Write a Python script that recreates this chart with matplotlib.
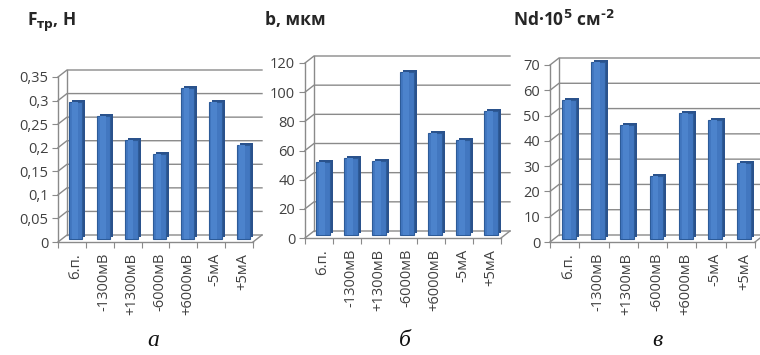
import matplotlib
matplotlib.use("Agg")
import matplotlib.pyplot as plt
from matplotlib.transforms import offset_copy

plt.rcParams['font.family'] = ['Open Sans', 'DejaVu Sans']
plt.rcParams['mathtext.fontset'] = 'dejavusans'

categories = ["б.п.", "-1300мВ", "+1300мВ", "-6000мВ", "+6000мВ", "-5мА", "+5мА"]

friction = [0.29, 0.26, 0.21, 0.18, 0.32, 0.29, 0.20]
friction_ticks = [0, 0.05, 0.1, 0.15, 0.2, 0.25, 0.3, 0.35]
friction_ticklabels = ["0", "0,05", "0,1", "0,15", "0,2", "0,25", "0,3", "0,35"]

width_b = [50, 53, 51, 112, 70, 65, 85]
width_ticks = [0, 20, 40, 60, 80, 100, 120]
width_ticklabels = ["0", "20", "40", "60", "80", "100", "120"]

density = [55, 70, 45, 25, 50, 47, 30]
density_ticks = [0, 10, 20, 30, 40, 50, 60, 70]
density_ticklabels = ["0", "10", "20", "30", "40", "50", "60", "70"]

W, H = 760, 355
fig = plt.figure(figsize=(W / 100, H / 100), dpi=100)

GRID = "#8a8a8a"
FRONT = "#4277c0"
SIDE = "#2a528c"
EDGE = "#2d5b98"
TXT = "#404040"


def panel(px0, px1, py0, pytop, values, ticks, ticklabels):
    ax = fig.add_axes([px0 / W, (H - py0) / H, (px1 - px0) / W, (py0 - pytop) / H])
    n = len(values)
    ax.set_xlim(-0.5, n - 0.5)
    ax.set_ylim(0, ticks[-1])
    for s in ("top", "right"):
        ax.spines[s].set_visible(False)
    for s in ("left", "bottom"):
        ax.spines[s].set_color(GRID)
        ax.spines[s].set_linewidth(1.0)
    ax.set_yticks(ticks)
    ax.set_yticklabels(ticklabels, fontsize=10.5, color=TXT)
    ax.tick_params(axis="y", length=4, color=GRID, pad=3)
    ax.set_xticks([i - 0.5 for i in range(n + 1)])
    ax.set_xticklabels([])
    ax.tick_params(axis="x", length=4, color=GRID)

    # pixel -> data offsets for the pseudo-3D back wall
    xs = n / (px1 - px0)
    ys = ticks[-1] / (py0 - pytop)
    wdx, wdy = 9 * xs, 7 * ys
    x0, x1 = -0.5, n - 0.5
    for t in ticks:
        ax.plot([x0, x0 + wdx, x1 + wdx], [t, t + wdy, t + wdy],
                color=GRID, lw=1.0, clip_on=False, zorder=1)
    ax.plot([x0 + wdx, x0 + wdx], [wdy, ticks[-1] + wdy], color=GRID, lw=1.0,
            clip_on=False, zorder=1)
    ax.plot([x1, x1 + wdx], [0, wdy], color=GRID, lw=1.0, clip_on=False, zorder=1)

    pos = list(range(n))
    side_tr = offset_copy(ax.transData, fig=fig, x=7, y=5, units="dots")
    front_tr = offset_copy(ax.transData, fig=fig, x=4, y=3, units="dots")
    ax.bar(pos, values, width=0.47, color=SIDE, transform=side_tr,
           clip_on=False, zorder=3, linewidth=0)
    ax.bar(pos, values, width=0.47, color=FRONT, edgecolor=EDGE, linewidth=0.8,
           transform=front_tr, clip_on=False, zorder=4)
    hl_tr = offset_copy(ax.transData, fig=fig, x=3, y=3, units="dots")
    ax.bar(pos, values, width=0.2, color="#4c83cc", transform=hl_tr,
           clip_on=False, zorder=5, linewidth=0)

    lab_tr = offset_copy(ax.transData, fig=fig, x=4, y=-11, units="dots")
    for i, c in enumerate(categories):
        ax.text(i, 0, c, rotation=90, ha="center", va="top", fontsize=10.5,
                color=TXT, transform=lab_tr)
    return ax


panel(58, 253, 242, 77, friction, friction_ticks, friction_ticklabels)
panel(305, 501, 238, 63, width_b, width_ticks, width_ticklabels)
panel(550, 755, 242, 65, density, density_ticks, density_ticklabels)

# titles
fig.text(27 / W, 1 - 22 / H, r"F$_{\mathbf{тр}}$, Н", fontsize=12.5,
         fontweight="bold", va="center", color="#262626")
fig.text(265 / W, 1 - 20 / H, "b, мкм", fontsize=12.5, fontweight="bold",
         va="center", color="#262626")
fig.text(513 / W, 1 - 20 / H, r"Nd·10$^{\mathbf{5}}$ см$^{\mathbf{‐2}}$",
         fontsize=12.5, fontweight="bold", va="center", color="#262626")

for xpix, letter in ((153, "а"), (405, "б"), (657, "в")):
    fig.text(xpix / W, 1 - 340 / H, letter, fontsize=17, style="italic",
             family=["Liberation Serif", "DejaVu Serif"], ha="center",
             va="center", color="#111111")

fig.savefig("out.png", dpi=100, facecolor="white")
